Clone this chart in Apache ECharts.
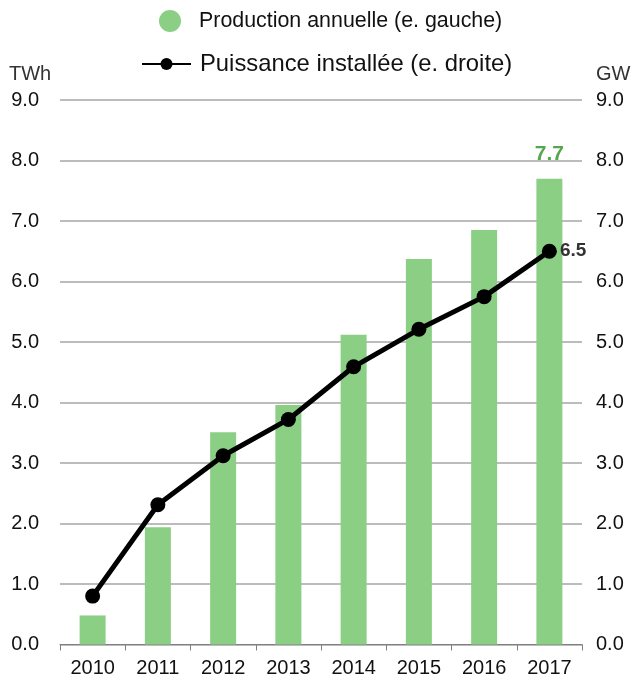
<!DOCTYPE html>
<html>
<head>
<meta charset="utf-8">
<script src="https://cdn.jsdelivr.net/npm/echarts@6/dist/echarts.min.js"></script>
<style>
  html, body { margin: 0; padding: 0; background: #fff; }
  #chart { width: 632px; height: 680px; }
</style>
</head>
<body>
<div id="chart"></div>
<script>
// Years on the category axis
var years = ['2010', '2011', '2012', '2013', '2014', '2015', '2016', '2017'];
// Annual production, TWh (left axis)
var production = [0.48, 1.94, 3.51, 3.96, 5.12, 6.37, 6.85, 7.7];
// Installed capacity, GW (right axis)
var capacity = [0.80, 2.31, 3.12, 3.72, 4.59, 5.21, 5.75, 6.5];

var productionName = 'Production annuelle (e. gauche)';
var capacityName = 'Puissance installée (e. droite)';

var FONT = 'Liberation Sans, Arial, sans-serif';
var GREEN = '#8bcf84';

var chart = echarts.init(document.getElementById('chart'), null, { renderer: 'canvas' });

var lastIdx = years.length - 1;

chart.setOption({
  animation: false,
  textStyle: { fontFamily: FONT },
  legend: [
    {
      data: [productionName],
      left: 154,
      top: 5,
      icon: 'circle',
      itemWidth: 22,
      itemHeight: 22,
      itemGap: 8,
      textStyle: { fontFamily: FONT, fontSize: 21.4, color: '#111', padding: [0, 0, 0, 13] }
    },
    {
      data: [capacityName],
      left: 136,
      top: 47,
      itemWidth: 49,
      itemHeight: 15,
      itemGap: 8,
      textStyle: { fontFamily: FONT, fontSize: 23.8, color: '#111', padding: [0, 0, 0, 4] }
    }
  ],
  grid: { left: 60, right: 50, top: 100, bottom: 35.5, containLabel: false },
  xAxis: {
    type: 'category',
    data: years,
    boundaryGap: true,
    axisLine: { show: true, lineStyle: { color: '#808080', width: 1 } },
    axisTick: { show: true, alignWithLabel: false, length: 6, lineStyle: { color: '#808080' } },
    axisLabel: { fontFamily: FONT, fontSize: 20, color: '#111', margin: 14 }
  },
  yAxis: [
    {
      type: 'value',
      min: 0, max: 9, interval: 1,
      axisLine: { show: false },
      axisTick: { show: false },
      axisLabel: {
        fontFamily: FONT, fontSize: 20, color: '#111', margin: 21,
        formatter: function (v) { return v.toFixed(1); }
      },
      splitLine: { show: true, lineStyle: { color: '#a6a6a6', width: 1.5 } }
    },
    {
      type: 'value',
      min: 0, max: 9, interval: 1,
      position: 'right',
      axisLine: { show: false },
      axisTick: { show: false },
      axisLabel: {
        fontFamily: FONT, fontSize: 20, color: '#111', margin: 14,
        formatter: function (v) { return v.toFixed(1); }
      },
      splitLine: { show: false }
    }
  ],
  graphic: [
    { type: 'text', left: 9, top: 64, style: { text: 'TWh', font: '20px ' + FONT, fill: '#333' } },
    { type: 'text', left: 596, top: 64, style: { text: 'GW', font: '20px ' + FONT, fill: '#333' } }
  ],
  series: [
    {
      name: productionName,
      type: 'bar',
      yAxisIndex: 0,
      barWidth: 26,
      itemStyle: { color: GREEN },
      data: production,
      label: {
        show: true,
        position: 'top',
        distance: 14,
        fontFamily: FONT,
        fontSize: 21,
        fontWeight: 'bold',
        color: '#55a74d',
        formatter: function (p) { return p.dataIndex === lastIdx ? p.value.toFixed(1) : ''; }
      }
    },
    {
      name: capacityName,
      type: 'line',
      yAxisIndex: 1,
      data: capacity,
      symbol: 'circle',
      symbolSize: 15,
      lineStyle: { color: '#000', width: 5 },
      itemStyle: { color: '#000' },
      label: {
        show: true,
        position: 'right',
        distance: 3,
        fontFamily: FONT,
        fontSize: 19,
        fontWeight: 'bold',
        color: '#333',
        formatter: function (p) { return p.dataIndex === lastIdx ? p.value.toFixed(1) : ''; }
      }
    }
  ]
});
</script>
</body>
</html>
